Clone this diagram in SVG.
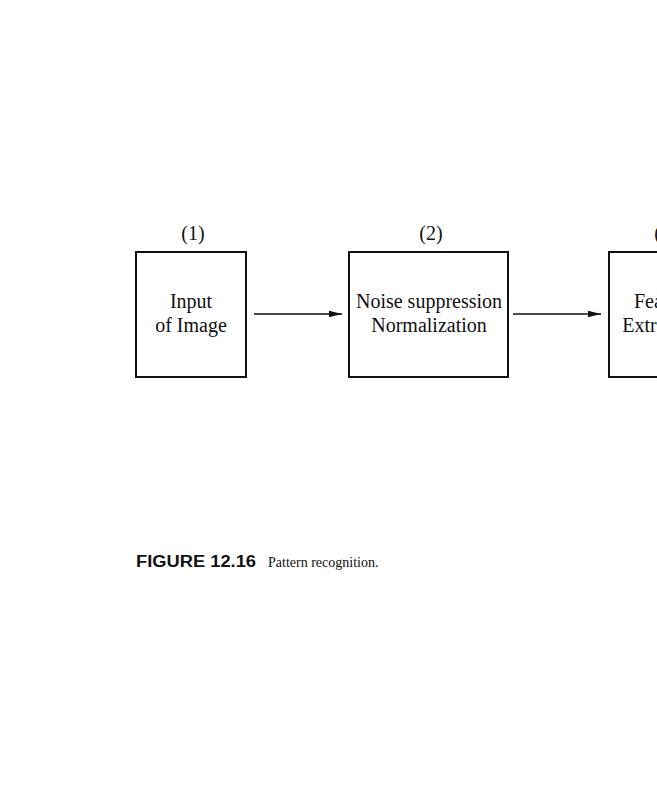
<svg xmlns="http://www.w3.org/2000/svg" width="657" height="800" viewBox="0 0 657 800">
<style>
.box{fill:none;stroke:#111;stroke-width:2}
.t{font-family:"Liberation Serif","Times New Roman",serif;font-size:20px;fill:#111;text-anchor:middle}
.c{stroke:#111;stroke-width:1.6;fill:none}
</style>
<defs>
<marker id="ah" markerWidth="14" markerHeight="8" refX="13" refY="4" orient="auto" markerUnits="userSpaceOnUse">
<path d="M0,0.8 L13,4 L0,7.2 Z" fill="#111"/>
</marker>
</defs>
<rect width="657" height="800" fill="#fff"/>
<g id="node1">
<text class="t" x="193" y="240">(1)</text>
<rect class="box" x="136" y="252" width="110" height="125"/>
<text class="t" x="191" y="308">Input</text>
<text class="t" x="191" y="332">of Image</text>
</g>
<g id="node2">
<text class="t" x="431" y="240">(2)</text>
<rect class="box" x="349" y="252" width="159" height="125"/>
<text class="t" x="429" y="308">Noise suppression</text>
<text class="t" x="429" y="332">Normalization</text>
</g>
<g id="node3">
<text class="t" x="666" y="240">(3)</text>
<rect class="box" x="609" y="252" width="110" height="125"/>
<text class="t" x="664" y="308">Feature</text>
<text class="t" x="664" y="332">Extraction</text>
</g>
<g id="connectors">
<line class="c" x1="254" y1="314" x2="342" y2="314" marker-end="url(#ah)"/>
<line class="c" x1="513" y1="314" x2="601" y2="314" marker-end="url(#ah)"/>
</g>
<g id="caption">
<text x="136" y="567" font-family="Liberation Sans, Arial, sans-serif" font-weight="bold" font-size="16" textLength="120" lengthAdjust="spacingAndGlyphs" fill="#111">FIGURE 12.16</text>
<text x="268" y="567" font-family="Liberation Serif, Times New Roman, serif" font-size="14" fill="#111">Pattern recognition.</text>
</g>
</svg>
